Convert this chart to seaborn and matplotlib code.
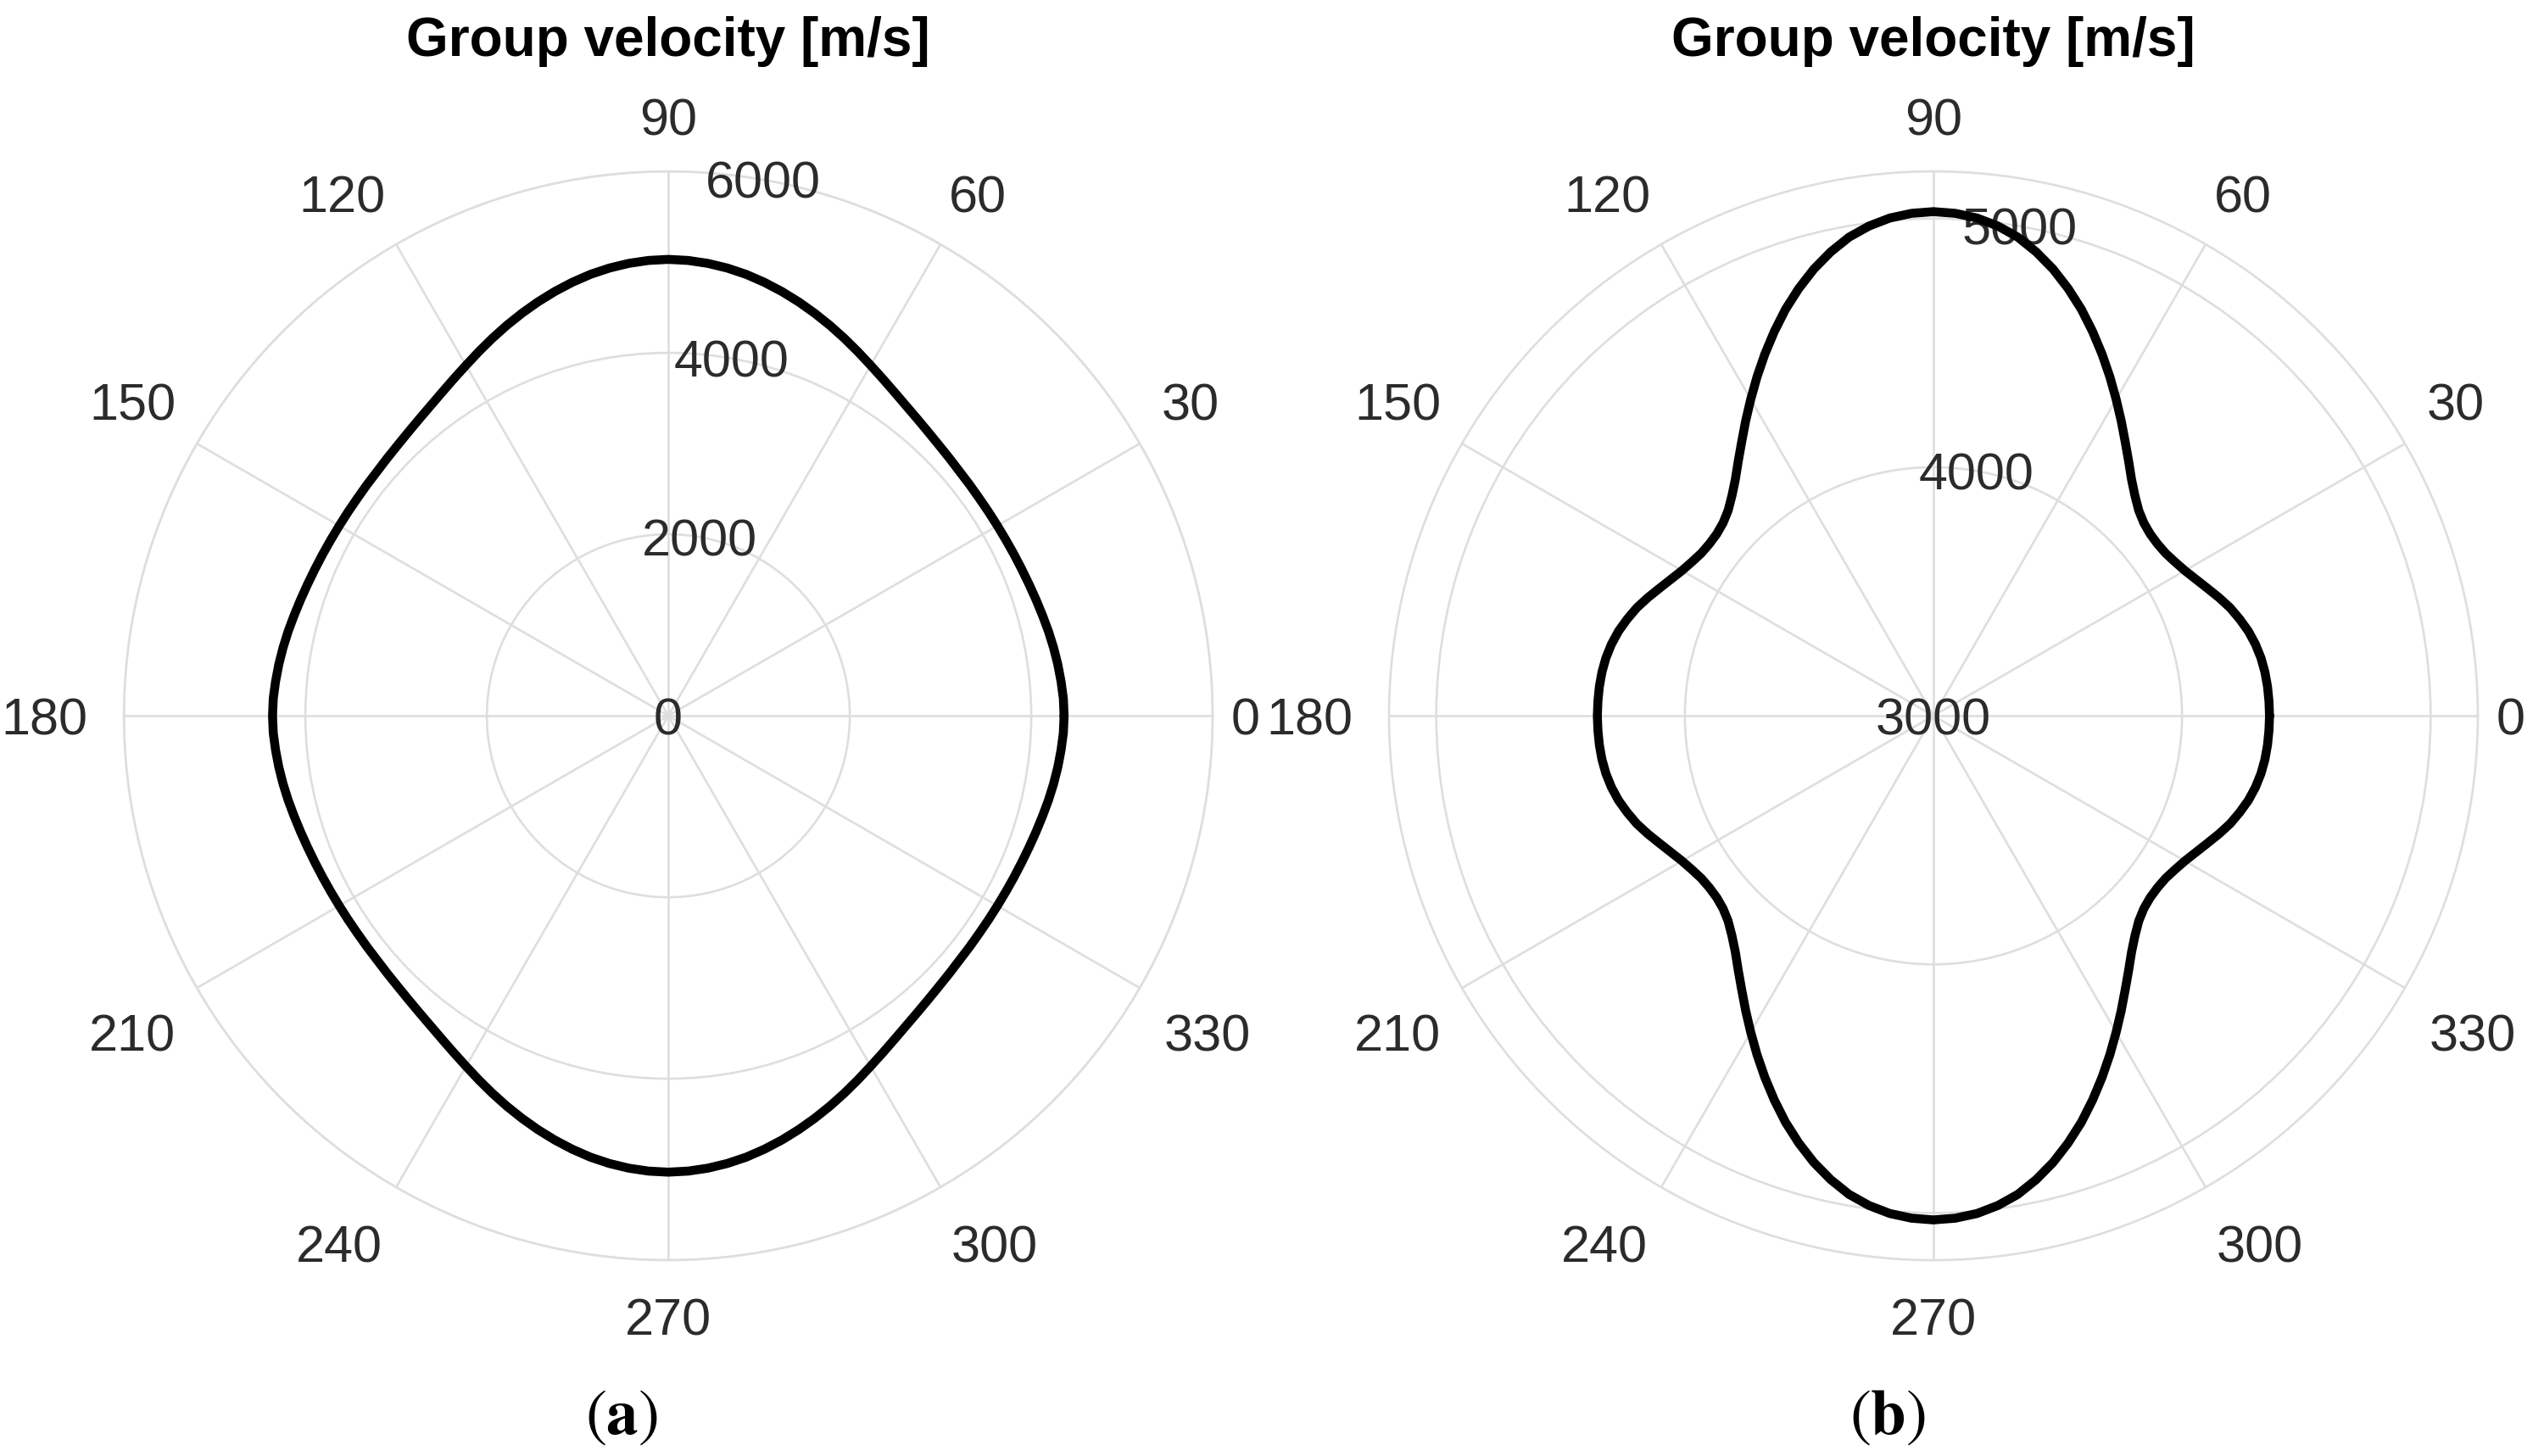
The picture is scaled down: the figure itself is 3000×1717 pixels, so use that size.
import numpy as np
import pandas as pd
import matplotlib
matplotlib.use('Agg')
import matplotlib.pyplot as plt
import seaborn as sns

# angles of one quadrant (deg), curves are symmetric about 0 and 90 deg
quad_angle = [0, 2.5, 5, 7.5, 10, 12.5, 15, 17.5, 20, 22.5, 25, 27.5, 30, 32.5, 35, 37.5,
              40, 42.5, 45, 47.5, 50, 52.5, 55, 57.5, 60, 62.5, 65, 67.5, 70, 72.5,
              75, 77.5, 80, 82.5, 85, 87.5, 90]
# group velocity [m/s]
vel_a = [4362, 4358, 4345, 4330, 4312, 4292, 4270, 4250, 4232, 4217, 4205, 4195,
         4188, 4184, 4182, 4185, 4190, 4202, 4218, 4241, 4270, 4306, 4350, 4402,
         4460, 4524, 4590, 4656, 4720, 4782, 4840, 4893, 4940, 4977, 5005, 5023, 5030]
# group velocity [m/s]
vel_b = [4352, 4351, 4349, 4345, 4338, 4327, 4312, 4292, 4270, 4243, 4215, 4190,
         4168, 4152, 4140, 4136, 4138, 4148, 4168, 4200, 4240, 4290, 4345, 4406,
         4470, 4537, 4605, 4673, 4740, 4802, 4860, 4911, 4955, 4987, 5010, 5023, 5028]

rticks_a = [0, 2000, 4000, 6000]
rticks_b = [3000, 4000, 5000]
theta_ticks = list(range(0, 360, 30))
panel_labels = ['a', 'b']
title = 'Group velocity [m/s]'

# where each angle label sits relative to its point on the outer circle (px)
label_offsets = [(39, 0), (60, 50), (44, 60), (0, 65), (-64, 60), (-76, 50),
                 (-94, 0), (-76, -52), (-67, -66), (0, -66), (64, -66), (80, -52)]


def full_circle(q):
    q = list(q)
    return q + q[::-1][1:] + q[1:] + q[::-1][1:]


ang_q = np.array(quad_angle)
angles = np.concatenate([ang_q, 180 - ang_q[::-1][1:], 180 + ang_q[1:], 360 - ang_q[::-1][1:]])

df_a = pd.DataFrame({'theta': np.deg2rad(angles), 'v': full_circle(vel_a)})
df_b = pd.DataFrame({'theta': np.deg2rad(angles), 'v': full_circle(vel_b)})

sns.set_theme(style='white')
plt.rcParams['font.family'] = ['Liberation Sans', 'DejaVu Sans']

grid_c = '#dedede'
text_c = '#2b2b2b'
DPI = 200
fig = plt.figure(figsize=(15, 8.585), dpi=DPI)

positions = [[0.0487, 0.1345, 0.428, 0.7478], [0.546, 0.1345, 0.428, 0.7478]]
setups = [(df_a, rticks_a, (0, 6000)), (df_b, rticks_b, (3000, 5190))]
label_x = [733 / 3000, 2226 / 3000]

for i, (df, rticks, rlim) in enumerate(setups):
    ax = fig.add_axes(positions[i], projection='polar')
    sns.lineplot(data=df, x='theta', y='v', ax=ax, sort=False, estimator=None,
                 color='black', linewidth=3.8, zorder=5)
    for ln in ax.lines:
        ln.set_solid_joinstyle('round')
    ax.set_ylim(*rlim)
    ax.set_yticks(rticks)
    ax.set_yticklabels([])
    ax.set_xticks(np.deg2rad(theta_ticks))
    ax.set_xticklabels([])
    ax.set_xlabel('')
    ax.set_ylabel('')
    ax.grid(True, color=grid_c, linewidth=0.95)
    ax.spines['polar'].set_color(grid_c)
    ax.spines['polar'].set_linewidth(0.95)

    # angle labels around the outer circle
    for t, (ox, oy) in zip(theta_ticks, label_offsets):
        ax.annotate(str(t), xy=(np.deg2rad(t), rlim[1]), xytext=(ox, oy - 22),
                    textcoords='offset pixels', ha='center', va='baseline',
                    fontsize=22, color=text_c, annotation_clip=False)
    # radial labels along 80 deg
    for r in rticks:
        ax.text(np.deg2rad(80), r, str(r), ha='center', va='center_baseline',
                fontsize=22, color=text_c, zorder=3)

    cx = positions[i][0] + positions[i][2] / 2
    fig.text(cx, 0.9616, title, ha='center', va='baseline',
             fontsize=23, fontweight='bold', color='black')
    fig.text(label_x[i], 0.0157, r'($\mathbf{' + panel_labels[i] + r'}$)',
             ha='center', va='baseline', fontsize=27,
             family='STIXGeneral', math_fontfamily='stix', color='black')

fig.savefig('out.png', dpi=DPI, facecolor='white')
